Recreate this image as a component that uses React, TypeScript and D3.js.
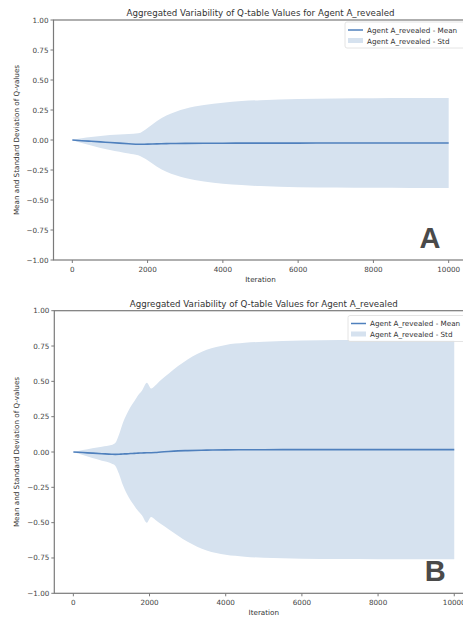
import React from 'react';
import * as d3 from 'd3';

// panel A: agent trained without the reveal shock
const iterA = [0, 250, 500, 750, 1000, 1250, 1500, 1750, 2000, 2250, 2500, 2750, 3000, 3500, 4000, 4500, 5000, 6000, 7000, 8000, 9000, 10000];
const meanA = [0, -0.006, -0.011, -0.016, -0.021, -0.026, -0.031, -0.036, -0.034, -0.032, -0.03, -0.029, -0.028, -0.027, -0.027, -0.026, -0.026, -0.026, -0.025, -0.025, -0.025, -0.025];
const stdA = [0, 0.02, 0.035, 0.05, 0.062, 0.072, 0.082, 0.092, 0.135, 0.19, 0.235, 0.265, 0.288, 0.318, 0.338, 0.35, 0.358, 0.367, 0.371, 0.373, 0.374, 0.375];

// panel B
const iterB = [0, 250, 500, 750, 1000, 1100, 1200, 1300, 1400, 1500, 1600, 1700, 1800, 1930, 2040, 2150, 2300, 2500, 2750, 3000, 3500, 4000, 4500, 5000, 6000, 7000, 8000, 10000];
const meanB = [0, -0.004, -0.008, -0.012, -0.016, -0.017, -0.016, -0.014, -0.013, -0.011, -0.01, -0.008, -0.007, -0.005, -0.005, -0.004, 0, 0.004, 0.008, 0.01, 0.013, 0.015, 0.016, 0.016, 0.017, 0.017, 0.017, 0.017];
const stdB = [0, 0.018, 0.035, 0.05, 0.065, 0.08, 0.14, 0.22, 0.28, 0.33, 0.37, 0.41, 0.44, 0.495, 0.455, 0.475, 0.51, 0.55, 0.6, 0.645, 0.71, 0.743, 0.757, 0.765, 0.772, 0.775, 0.776, 0.776];

const xTicks = [0, 2000, 4000, 6000, 8000, 10000];
const yTicks = [-1, -0.75, -0.5, -0.25, 0, 0.25, 0.5, 0.75, 1];

const title = 'Aggregated Variability of Q-table Values for Agent A_revealed';
const seriesName = 'Agent A_revealed';

const lineColor = '#4f80bd';
const bandColor = '#d6e2ef';
const axisColor = '#7a7a7a';
const textColor = '#444';
const font = 'DejaVu Sans, sans-serif';

interface PanelProps {
  iters: number[];
  mean: number[];
  std: number[];
  left: number;
  right: number;
  top: number;
  bottom: number;
  letter: string;
  legendX: number;
  legendY: number;
}

const Panel: React.FC<PanelProps> = ({ iters, mean, std, left, right, top, bottom, letter, legendX, legendY }) => {
  const x = d3.scaleLinear().domain([-500, 10500]).range([left, right]);
  const y = d3.scaleLinear().domain([-1, 1]).range([bottom, top]);
  const pts = iters.map((it, i) => ({ it, m: mean[i], s: std[i] }));

  const area = d3.area<any>()
    .x(d => x(d.it))
    .y0(d => y(d.m - d.s))
    .y1(d => y(d.m + d.s))
    .curve(d3.curveMonotoneX);
  const line = d3.line<any>()
    .x(d => x(d.it))
    .y(d => y(d.m))
    .curve(d3.curveMonotoneX);

  const midX = (left + right) / 2;
  const midY = (top + bottom) / 2;

  return (
    <g fontFamily={font}>
      <path d={area(pts) || ''} fill={bandColor} />
      <path d={line(pts) || ''} fill="none" stroke={lineColor} strokeWidth={1.6} />

      <rect x={left} y={top} width={right - left} height={bottom - top} fill="none" stroke={axisColor} strokeWidth={1.2} />

      {yTicks.map(t => (
        <g key={t}>
          <line x1={left - 3} x2={left} y1={y(t)} y2={y(t)} stroke={axisColor} strokeWidth={1} />
          <text x={left - 5} y={y(t)} dy="0.35em" textAnchor="end" fontSize={7.2} fill={textColor}>
            {d3.format('.2f')(t).replace('-', '\u2212')}
          </text>
        </g>
      ))}
      {xTicks.map(t => (
        <g key={t}>
          <line x1={x(t)} x2={x(t)} y1={bottom} y2={bottom + 3} stroke={axisColor} strokeWidth={1} />
          <text x={x(t)} y={bottom + 11.5} textAnchor="middle" fontSize={7.2} fill={textColor}>{t}</text>
        </g>
      ))}

      <text x={midX} y={top - 4} textAnchor="middle" fontSize={8.7} fill="#333">{title}</text>
      <text x={midX} y={bottom + 22} textAnchor="middle" fontSize={7.2} fill="#333">Iteration</text>
      <text transform={`translate(19,${midY}) rotate(-90)`} textAnchor="middle" fontSize={7.2} fill="#333">
        Mean and Standard Deviation of Q-values
      </text>

      <g transform={`translate(${legendX},${legendY})`}>
        <rect x={0} y={0} width={130} height={26} fill="white" fillOpacity={0.85} stroke="#ddd" strokeWidth={0.8} rx={2} />
        <line x1={3} x2={18} y1={8} y2={8} stroke={lineColor} strokeWidth={1.5} />
        <rect x={3} y={16} width={15} height={5} fill={bandColor} />
        <text x={22} y={8} dy="0.35em" fontSize={7.2} fill="#333">{seriesName} - Mean</text>
        <text x={22} y={19} dy="0.35em" fontSize={7.2} fill="#333">{seriesName} - Std</text>
      </g>

      <text x={x(9500)} y={bottom - 12} textAnchor="middle" fontSize={29}
        fontFamily="Liberation Sans, Arial, sans-serif" fontWeight="bold" fill="#4a4a4a">{letter}</text>
    </g>
  );
};

export default function App() {
  return (
    <div style={{ position: 'absolute', left: 0, top: 0 }}>
      <svg width={463} height={621} style={{ display: 'block', background: 'white' }}>
        <Panel iters={iterA} mean={meanA} std={stdA} left={53.5} right={467.5} top={20} bottom={260}
          letter="A" legendX={345} legendY={22} />
        <Panel iters={iterB} mean={meanB} std={stdB} left={54.3} right={473.3} top={310.7} bottom={593.3}
          letter="B" legendX={348} legendY={315.5} />
      </svg>
    </div>
  );
}
